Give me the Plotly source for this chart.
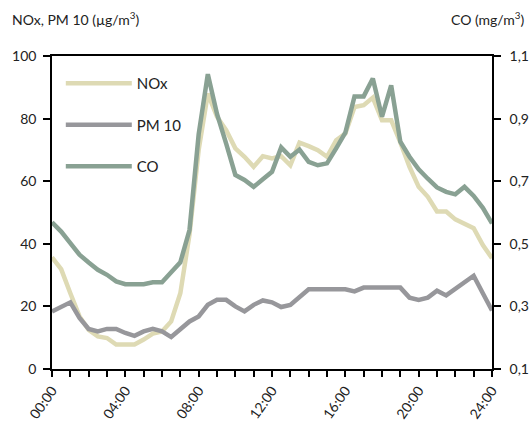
import plotly.graph_objects as go

hours = [0, 0.5, 1, 1.5, 2, 2.5, 3, 3.5, 4, 4.5, 5, 5.5, 6, 6.5, 7, 7.5, 8, 8.5,
         9, 9.5, 10, 10.5, 11, 11.5, 12, 12.5, 13, 13.5, 14, 14.5, 15, 15.5, 16,
         16.5, 17, 17.5, 18, 18.5, 19, 19.5, 20, 20.5, 21, 21.5, 22, 22.5, 23, 23.5, 24]

nox = [35.7, 31.9, 24.2, 16.8, 12.5, 10.4, 9.9, 7.8, 7.8, 7.8, 9.4, 11.3, 12.0, 15.2,
       24.2, 43.0, 70.0, 88.0, 80.6, 76.3, 70.5, 67.8, 64.6, 68.0, 67.3, 68.0, 65.1,
       72.3, 71.2, 69.9, 67.8, 73.1, 75.2, 83.7, 84.3, 86.7, 79.5, 79.5, 72.4, 64.6,
       58.2, 55.0, 50.3, 50.3, 47.8, 46.5, 45.0, 39.6, 35.4]

pm10 = [18.4, 19.8, 21.3, 16.3, 12.8, 12.0, 12.8, 12.8, 11.5, 10.6, 12.0, 12.8, 12.0,
        10.2, 12.8, 15.2, 16.8, 20.5, 22.1, 22.1, 20.0, 18.4, 20.5, 21.9, 21.3, 19.8,
        20.5, 23.0, 25.5, 25.5, 25.5, 25.5, 25.5, 24.8, 26.0, 26.0, 26.0, 26.0, 26.0,
        22.8, 22.1, 22.8, 25.0, 23.5, 25.5, 27.6, 29.8, 24.2, 18.7]

co = [0.569, 0.539, 0.502, 0.465, 0.440, 0.417, 0.401, 0.380, 0.371, 0.371, 0.371,
      0.377, 0.377, 0.409, 0.441, 0.544, 0.850, 1.042, 0.915, 0.820, 0.720, 0.704,
      0.682, 0.706, 0.730, 0.808, 0.778, 0.801, 0.762, 0.751, 0.757, 0.805, 0.855,
      0.971, 0.971, 1.028, 0.906, 1.006, 0.826, 0.778, 0.738, 0.708, 0.680, 0.666,
      0.658, 0.682, 0.653, 0.615, 0.565]

x_tickvals = [0, 4, 8, 12, 16, 20, 24]
x_ticktext = ["00:00", "04:00", "08:00", "12:00", "16:00", "20:00", "24:00"]
left_ticks = [0, 20, 40, 60, 80, 100]
right_ticks = [0.1, 0.3, 0.5, 0.7, 0.9, 1.1]

c_nox = "#dedab4"
c_pm = "#97979b"
c_co = "#89a193"
FONT = "Lato"

fig = go.Figure()
fig.add_trace(go.Scatter(x=hours, y=nox, name="NOx", mode="lines",
                         line=dict(color=c_nox, width=4.5), legendgroup="a"))
fig.add_trace(go.Scatter(x=hours, y=pm10, name="PM 10", mode="lines",
                         line=dict(color=c_pm, width=4.5), legendgroup="b"))
fig.add_trace(go.Scatter(x=hours, y=co, name="CO", mode="lines", yaxis="y2",
                         line=dict(color=c_co, width=4.5), legendgroup="c"))

axis_common = dict(showline=True, linecolor="black", linewidth=1.5, ticks="outside",
                   tickcolor="black", tickwidth=1.5, showgrid=False, zeroline=False,
                   automargin=False,
                   tickfont=dict(family=FONT, size=14, color="#222"))

fig.update_layout(
    width=529, height=423,
    margin=dict(l=52, r=37, t=56, b=54),
    paper_bgcolor="white", plot_bgcolor="white",
    separators=",.",
    font=dict(family=FONT, size=14, color="#222"),
    xaxis=dict(range=[0, 24], tickvals=x_tickvals, ticktext=x_ticktext, tickangle=-55,
               ticklen=6, mirror=True,
               minor=dict(dtick=1, ticks="outside", ticklen=6, tickcolor="black", tickwidth=1.5),
               **axis_common),
    yaxis=dict(range=[0, 100], tickvals=left_ticks, ticklen=7, ticklabelstandoff=4,
               **axis_common),
    yaxis2=dict(range=[0.1, 1.1], tickvals=right_ticks, tickformat=".1f", ticklen=7,
                ticklabelstandoff=6, overlaying="y", side="right", **axis_common),
    showlegend=True,
    legend=dict(x=0.02, y=0.965, xanchor="left", yanchor="top", itemwidth=66,
                tracegroupgap=19, bgcolor="rgba(0,0,0,0)",
                font=dict(family=FONT, size=15, color="#222")),
    annotations=[
        dict(text="NOx, PM 10 (µg/m<sup>3</sup>)", xref="paper", yref="paper",
             x=-0.096, y=1.121, xanchor="left", yanchor="middle", showarrow=False,
             font=dict(family=FONT, size=14, color="#222")),
        dict(text="CO (mg/m<sup>3</sup>)", xref="paper", yref="paper",
             x=1.08, y=1.121, xanchor="right", yanchor="middle", showarrow=False,
             font=dict(family=FONT, size=14, color="#222")),
    ],
)

fig.write_html("out.html", config={"displayModeBar": False},
               post_script="document.body.style.margin='0';document.body.style.overflow='hidden';")
